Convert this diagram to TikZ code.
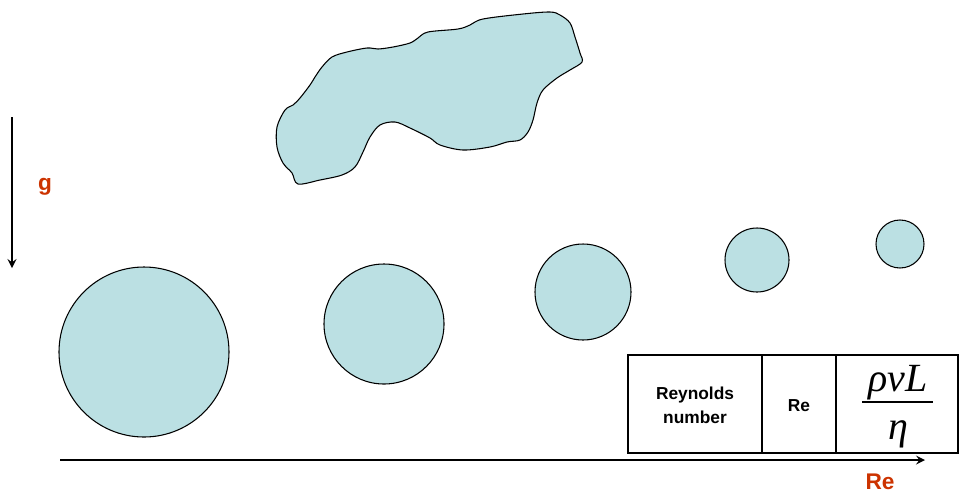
\documentclass[tikz,border=0pt]{standalone}
\usepackage{fontspec}
\setmainfont{Liberation Sans}
\newfontfamily\timesit{Liberation Serif}[UprightFont=*-Italic]
\definecolor{drop}{RGB}{187,224,227}
\definecolor{lbl}{RGB}{204,51,0}
\tikzset{
  drop/.style={draw=black,line width=0.8pt,fill=drop},
  lbl/.style={text=lbl,font=\fontsize{17}{19}\selectfont\bfseries},
  cell/.style={font=\fontsize{13}{18}\selectfont\bfseries,align=center},
  sym/.style={font=\fontsize{30}{34}\selectfont\timesit,inner sep=0pt}
}
\begin{document}
\begin{tikzpicture}[x=0.75pt,y=-0.75pt]
\useasboundingbox (0,0) rectangle (960,494);
\draw[drop] plot[smooth cycle,tension=0.55] coordinates {
 (322,67) (332,57) (347,52) (367,48) (378,49) (393,47) (410,43) (418,38)
 (428,32) (458,29) (470,25) (483,19) (523,14) (550,12) (560,15) (570,23)
 (575,37) (580,53) (582,62) (570,70) (557,78) (543,90) (537,103) (533,120)
 (528,132) (520,140) (507,142) (490,147) (463,150) (440,145) (430,138)
 (410,128) (395,122) (380,125) (370,137) (363,152) (355,167) (342,175)
 (320,180) (298,184) (292,173) (283,163) (277,147) (277,127) (285,110)
 (293,105) (300,98) (310,85) (315,77)};
%drops shrink as Re grows
\foreach \cx/\cy/\r in {144/352/85,384/324/60,583/292/48,757/260/32,900/244/24}
  \draw[drop] (\cx,\cy) circle[radius=\r*0.75pt];
\draw[-stealth,line width=1.9pt] (12,117)--(12,268);
\node[lbl] (g) at (45,187) {g};
\draw[-stealth,line width=1.9pt] (60,460)--(925,460);
\node[lbl] (re) at (880,482) {Re};
\draw[line width=2pt] (628,355) rectangle (958,453);
\draw[line width=0.8pt] (762,355)--(762,453) (836,355)--(836,453);
\node[cell] (name) at (695,405) {Reynolds\\number};
\node[cell] (re0) at (799,406) {Re};
% fraction rho v L / eta
\node[sym,anchor=base] (num) at (898,391) {ρvL};
\node[sym,anchor=base] (den) at (898,439) {η};
\draw[line width=1.4pt] (862,402)--(933,402);
\end{tikzpicture}
\end{document}
